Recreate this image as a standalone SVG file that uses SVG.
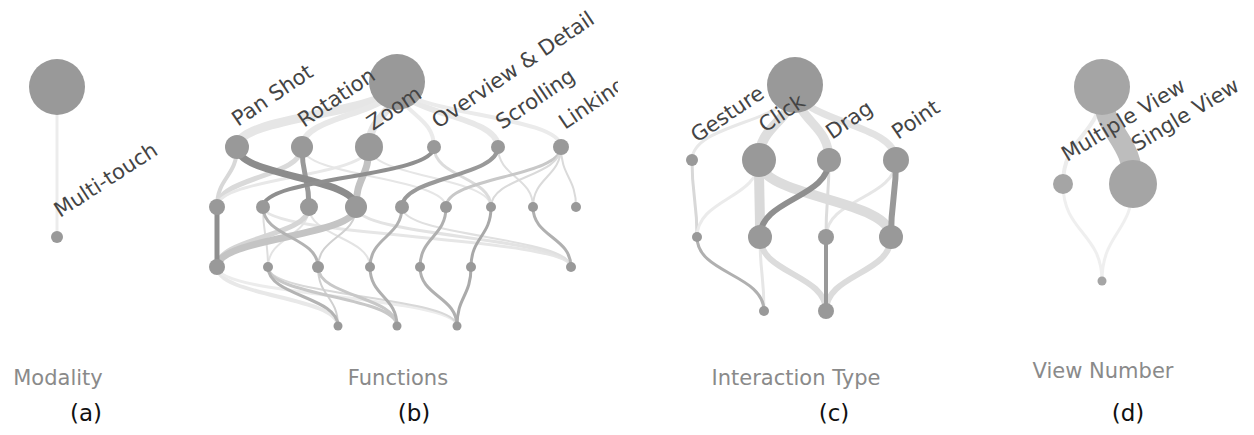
<svg xmlns="http://www.w3.org/2000/svg" width="1254" height="435" viewBox="0 0 1254 435">
<style>
.e{fill:none}
.n{fill:#999}
.nd{fill:#a5a5a5}
.lab{font-family:"DejaVu Sans",Verdana,sans-serif;font-size:21px;fill:#444}
.cap{font-family:"DejaVu Sans",sans-serif;font-size:21px;fill:#8a8a8a;text-anchor:middle}
.sub{font-family:"DejaVu Sans",sans-serif;font-size:23px;fill:#111;text-anchor:middle}
</style>
<defs>
<clipPath id="clipB"><rect x="190" y="0" width="428" height="435"/></clipPath>
</defs>
<rect width="1254" height="435" fill="#fff"/>

<!-- Panel a -->
<g id="connectors-a">
<path class="e" d="M57,87 L57,237" stroke="#ececec" stroke-width="3"/>
</g>
<g id="a-root"><circle class="n" cx="57" cy="87" r="28"/></g>
<g id="a-multitouch"><circle class="n" cx="57" cy="237" r="6"/>
<text class="lab" transform="translate(60,218) rotate(-33)">Multi-touch</text></g>

<!-- Panel b -->
<g clip-path="url(#clipB)">
<g id="connectors-b">
<path class="e" d="M397,82 C397,114.5 237,114.5 237,147" stroke="#e6e6e6" stroke-width="9"/>
<path class="e" d="M397,82 C397,114.5 302,114.5 302,147" stroke="#e8e8e8" stroke-width="6"/>
<path class="e" d="M397,82 C397,114.5 369,114.5 369,147" stroke="#e4e4e4" stroke-width="8"/>
<path class="e" d="M397,82 C397,114.5 434,114.5 434,147" stroke="#ebebeb" stroke-width="4"/>
<path class="e" d="M397,82 C397,114.5 498,114.5 498,147" stroke="#e8e8e8" stroke-width="6"/>
<path class="e" d="M397,82 C397,114.5 561,114.5 561,147" stroke="#ebebeb" stroke-width="4"/>
<path class="e" d="M237,147 C237,177 217,177 217,207" stroke="#d8d8d8" stroke-width="4"/>
<path class="e" d="M302,147 C302,177 217,177 217,207" stroke="#dadada" stroke-width="5"/>
<path class="e" d="M369,147 C369,177 217,177 217,207" stroke="#e8e8e8" stroke-width="3"/>
<path class="e" d="M369,147 C369,177 491,177 491,207" stroke="#e6e6e6" stroke-width="2"/>
<path class="e" d="M302,147 C302,177 446,177 446,207" stroke="#e6e6e6" stroke-width="2"/>
<path class="e" d="M434,147 C434,177 491,177 491,207" stroke="#dcdcdc" stroke-width="3"/>
<path class="e" d="M498,147 C498,177 533,177 533,207" stroke="#dedede" stroke-width="2"/>
<path class="e" d="M561,147 C561,177 446,177 446,207" stroke="#c8c8c8" stroke-width="3"/>
<path class="e" d="M561,147 C561,177 491,177 491,207" stroke="#dadada" stroke-width="2"/>
<path class="e" d="M561,147 C561,177 533,177 533,207" stroke="#dadada" stroke-width="2"/>
<path class="e" d="M561,147 C561,177 576,177 576,207" stroke="#dadada" stroke-width="2"/>
<path class="e" d="M369,147 C369,177 356,177 356,207" stroke="#c2c2c2" stroke-width="7"/>
<path class="e" d="M302,147 C302,177 309,177 309,207" stroke="#999" stroke-width="5"/>
<path class="e" d="M237,147 C237,177 356,177 356,207" stroke="#8c8c8c" stroke-width="7"/>
<path class="e" d="M434,147 C434,177 263,177 263,207" stroke="#8f8f8f" stroke-width="4"/>
<path class="e" d="M498,147 C498,177 402,177 402,207" stroke="#999" stroke-width="4"/>
<path class="e" d="M263,207 C263,237 571,237 571,267" stroke="#e6e6e6" stroke-width="3"/>
<path class="e" d="M356,207 C356,237 571,237 571,267" stroke="#e3e3e3" stroke-width="3"/>
<path class="e" d="M402,207 C402,237 571,237 571,267" stroke="#e0e0e0" stroke-width="2"/>
<path class="e" d="M309,207 C309,237 370,237 370,267" stroke="#e3e3e3" stroke-width="2"/>
<path class="e" d="M309,207 C309,237 268,237 268,267" stroke="#e3e3e3" stroke-width="2"/>
<path class="e" d="M263,207 C263,237 268,237 268,267" stroke="#dddddd" stroke-width="2"/>
<path class="e" d="M356,207 C356,237 318,237 318,267" stroke="#d0d0d0" stroke-width="2"/>
<path class="e" d="M309,207 C309,237 217,237 217,267" stroke="#d5d5d5" stroke-width="5"/>
<path class="e" d="M356,207 C356,237 217,237 217,267" stroke="#c4c4c4" stroke-width="7"/>
<path class="e" d="M217,207 L217,267" stroke="#8f8f8f" stroke-width="5"/>
<path class="e" d="M263,207 C263,237 318,237 318,267" stroke="#b3b3b3" stroke-width="3"/>
<path class="e" d="M402,207 C402,237 370,237 370,267" stroke="#b0b0b0" stroke-width="3"/>
<path class="e" d="M446,207 C446,237 420,237 420,267" stroke="#b0b0b0" stroke-width="3"/>
<path class="e" d="M491,207 C491,237 471,237 471,267" stroke="#a8a8a8" stroke-width="3"/>
<path class="e" d="M533,207 C533,237 571,237 571,267" stroke="#b0b0b0" stroke-width="3"/>
<path class="e" d="M217,267 C217,296.5 338,296.5 338,326" stroke="#e8e8e8" stroke-width="4"/>
<path class="e" d="M217,267 C217,296.5 457,296.5 457,326" stroke="#ececec" stroke-width="3"/>
<path class="e" d="M268,267 C268,296.5 457,296.5 457,326" stroke="#d8d8d8" stroke-width="2"/>
<path class="e" d="M318,267 C318,296.5 338,296.5 338,326" stroke="#d0d0d0" stroke-width="2"/>
<path class="e" d="M268,267 C268,296.5 397,296.5 397,326" stroke="#c8c8c8" stroke-width="3"/>
<path class="e" d="M318,267 C318,296.5 397,296.5 397,326" stroke="#c8c8c8" stroke-width="3"/>
<path class="e" d="M268,267 C268,296.5 338,296.5 338,326" stroke="#b3b3b3" stroke-width="3"/>
<path class="e" d="M370,267 C370,296.5 397,296.5 397,326" stroke="#b0b0b0" stroke-width="3"/>
<path class="e" d="M420,267 C420,296.5 457,296.5 457,326" stroke="#b0b0b0" stroke-width="3"/>
<path class="e" d="M471,267 C471,296.5 457,296.5 457,326" stroke="#aaaaaa" stroke-width="3"/>
</g>
<g id="b-root"><circle class="n" cx="397" cy="82" r="28"/></g>
<g id="b-l2"><circle class="n" cx="217" cy="207" r="8"/><circle class="n" cx="263" cy="207" r="7"/><circle class="n" cx="309" cy="207" r="9"/><circle class="n" cx="356" cy="207" r="11"/><circle class="n" cx="402" cy="207" r="7"/><circle class="n" cx="446" cy="207" r="6"/><circle class="n" cx="491" cy="207" r="5"/><circle class="n" cx="533" cy="207" r="5"/><circle class="n" cx="576" cy="207" r="5"/></g>
<g id="b-l3"><circle class="n" cx="217" cy="267" r="8"/><circle class="n" cx="268" cy="267" r="5"/><circle class="n" cx="318" cy="267" r="6"/><circle class="n" cx="370" cy="267" r="5"/><circle class="n" cx="420" cy="267" r="5"/><circle class="n" cx="471" cy="267" r="5"/><circle class="n" cx="571" cy="267" r="5"/></g>
<g id="b-l4"><circle class="n" cx="338" cy="326" r="4.5"/><circle class="n" cx="397" cy="326" r="4.5"/><circle class="n" cx="457" cy="326" r="4.5"/></g>
<g id="b-panshot"><circle class="n" cx="237" cy="147" r="12"/><text class="lab" transform="translate(238,127) rotate(-34)">Pan Shot</text></g>
<g id="b-rotation"><circle class="n" cx="302" cy="147" r="11"/><text class="lab" transform="translate(304,128) rotate(-34)">Rotation</text></g>
<g id="b-zoom"><circle class="n" cx="369" cy="147" r="14"/><text class="lab" transform="translate(373,131) rotate(-34)">Zoom</text></g>
<g id="b-overview"><circle class="n" cx="434" cy="147" r="7"/><text class="lab" transform="translate(438,129) rotate(-34)">Overview &amp; Detail</text></g>
<g id="b-scrolling"><circle class="n" cx="498" cy="147" r="7"/><text class="lab" transform="translate(502,130) rotate(-34)">Scrolling</text></g>
<g id="b-linking"><circle class="n" cx="561" cy="147" r="8"/><text class="lab" transform="translate(565,130) rotate(-34)">Linking</text></g>
</g>

<!-- Panel c -->
<g id="connectors-c">
<path class="e" d="M795,85 C795,122.5 692,122.5 692,160" stroke="#e8e8e8" stroke-width="3"/>
<path class="e" d="M795,85 C795,122.5 759,122.5 759,160" stroke="#dedede" stroke-width="10"/>
<path class="e" d="M795,85 C795,122.5 829,122.5 829,160" stroke="#e0e0e0" stroke-width="9"/>
<path class="e" d="M795,85 C795,122.5 896,122.5 896,160" stroke="#e3e3e3" stroke-width="7"/>
<path class="e" d="M692,160 C692,198.5 697,198.5 697,237" stroke="#d8d8d8" stroke-width="3"/>
<path class="e" d="M759,160 C759,198.5 697,198.5 697,237" stroke="#ebebeb" stroke-width="3"/>
<path class="e" d="M896,160 C896,198.5 826,198.5 826,237" stroke="#e6e6e6" stroke-width="3"/>
<path class="e" d="M829,160 C829,198.5 826,198.5 826,237" stroke="#dcdcdc" stroke-width="3"/>
<path class="e" d="M759,160 C759,198.5 760,198.5 760,237" stroke="#d9d9d9" stroke-width="10"/>
<path class="e" d="M759,160 C759,198.5 891,198.5 891,237" stroke="#dcdcdc" stroke-width="10"/>
<path class="e" d="M829,160 C829,198.5 760,198.5 760,237" stroke="#8f8f8f" stroke-width="6"/>
<path class="e" d="M896,160 C896,198.5 891,198.5 891,237" stroke="#999" stroke-width="6"/>
<path class="e" d="M760,237 C760,274 764,274 764,311" stroke="#e6e6e6" stroke-width="3"/>
<path class="e" d="M760,237 C760,274 826,274 826,311" stroke="#dcdcdc" stroke-width="6"/>
<path class="e" d="M891,237 C891,274 826,274 826,311" stroke="#dcdcdc" stroke-width="6"/>
<path class="e" d="M697,237 C697,274 764,274 764,311" stroke="#b0b0b0" stroke-width="3"/>
<path class="e" d="M826,237 L826,311" stroke="#999" stroke-width="4"/>
</g>
<g id="c-root"><circle class="n" cx="795" cy="85" r="28"/></g>
<g id="c-l2"><circle class="n" cx="697" cy="237" r="5"/><circle class="n" cx="760" cy="237" r="12"/><circle class="n" cx="826" cy="237" r="8"/><circle class="n" cx="891" cy="237" r="12"/></g>
<g id="c-l3"><circle class="n" cx="764" cy="311" r="5"/><circle class="n" cx="826" cy="311" r="8"/></g>
<g id="c-gesture"><circle class="n" cx="692" cy="160" r="6"/><text class="lab" transform="translate(697,143) rotate(-34)">Gesture</text></g>
<g id="c-click"><circle class="n" cx="759" cy="160" r="17"/><text class="lab" transform="translate(765,133) rotate(-34)">Click</text></g>
<g id="c-drag"><circle class="n" cx="829" cy="160" r="12"/><text class="lab" transform="translate(832,140) rotate(-34)">Drag</text></g>
<g id="c-point"><circle class="n" cx="896" cy="160" r="13"/><text class="lab" transform="translate(898,140) rotate(-34)">Point</text></g>

<!-- Panel d -->
<g id="connectors-d">
<path class="e" d="M1102,87 C1102,135.5 1063,135.5 1063,184" stroke="#ececec" stroke-width="4"/>
<path class="e" d="M1063,184 C1063,232.5 1102,232.5 1102,281" stroke="#efefef" stroke-width="3"/>
<path class="e" d="M1133,184 C1133,232.5 1102,232.5 1102,281" stroke="#efefef" stroke-width="3"/>
<path class="e" d="M1102,87 C1102,135.5 1133,135.5 1133,184" stroke="#bdbdbd" stroke-width="20"/>
</g>
<g id="d-root"><circle class="nd" cx="1102" cy="87" r="28"/></g>
<g id="d-l2"><circle class="nd" cx="1102" cy="281" r="4.5"/></g>
<g id="d-multiple"><circle class="nd" cx="1063" cy="184" r="10"/></g>
<g id="d-single"><circle class="nd" cx="1133" cy="184" r="24"/></g>
<g id="d-labels">
<text class="lab" transform="translate(1067,162) rotate(-31)">Multiple View</text>
<text class="lab" transform="translate(1137,152) rotate(-31)">Single View</text>
</g>

<!-- Captions -->
<g id="captions">
<text class="cap" x="58" y="385">Modality</text>
<text class="cap" x="398" y="385">Functions</text>
<text class="cap" x="796" y="385">Interaction Type</text>
<text class="cap" x="1103" y="378">View Number</text>
<text class="sub" x="86" y="421">(a)</text>
<text class="sub" x="414" y="421">(b)</text>
<text class="sub" x="834" y="421">(c)</text>
<text class="sub" x="1128" y="421">(d)</text>
</g>
</svg>
